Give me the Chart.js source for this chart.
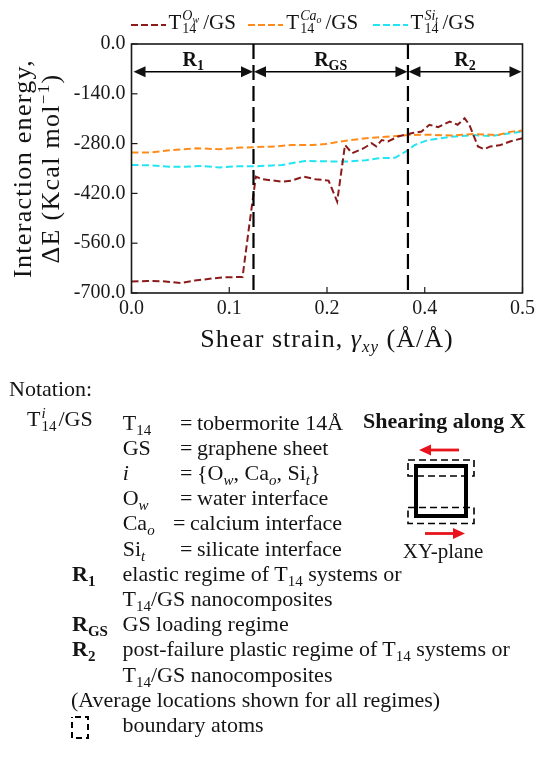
<!DOCTYPE html>
<html>
<head>
<meta charset="utf-8">
<script src="https://cdn.jsdelivr.net/npm/chart.js@4.4.1/dist/chart.umd.min.js"></script>
<style>
  html, body { margin: 0; padding: 0; background: #fff; }
  body { width: 539px; height: 761px; position: relative; overflow: hidden;
         font-family: "Liberation Serif", "Times New Roman", serif; color: #141414; }
  #chart { position: absolute; left: 0; top: 0; }
  .ln { position: absolute; white-space: nowrap; font-size: 22px; line-height: 22px; }
  .b { font-weight: bold; }
  .s { font-size: 15px; position: relative; top: 5px; }
  .it { font-style: italic; }
  .stk { display: inline-block; vertical-align: -5px; margin: 0 2px 0 1px; }
  .stk > span { display: block; line-height: 13px; font-size: 15px; }
  #legend .item { position: absolute; top: 9.8px; white-space: nowrap; font-size: 21px; line-height: 21px; }
  #legend svg { position: absolute; }
  #legend .stk { vertical-align: -4px; margin: 0 4px 0 1px; }
  #legend .stk > span { line-height: 12px; font-size: 14px; }
  .ls { font-size: 10px; position: relative; top: 3px; font-style: italic; }
</style>
</head>
<body>
<canvas id="chart" width="539" height="365"></canvas>
<div id="legend"></div>

<svg id="sketch" width="539" height="761" style="position:absolute;left:0;top:0">
  <!-- shear arrows -->
  <line x1="459" y1="450" x2="429" y2="450" stroke="#e8141b" stroke-width="2.8"/>
  <polygon points="419,450 431,444.5 431,455.5" fill="#e8141b"/>
  <line x1="425" y1="533.5" x2="455" y2="533.5" stroke="#e8141b" stroke-width="2.8"/>
  <polygon points="465,533.5 453,528 453,539" fill="#e8141b"/>
  <!-- cell -->
  <rect x="416" y="466" width="50" height="50" fill="none" stroke="#000" stroke-width="4"/>
  <rect x="408" y="460" width="66" height="16" fill="none" stroke="#000" stroke-width="1.6" stroke-dasharray="7 4"/>
  <rect x="408" y="507.5" width="66" height="16" fill="none" stroke="#000" stroke-width="1.6" stroke-dasharray="7 4"/>
  <!-- boundary atoms symbol -->
  <rect x="72" y="717" width="16" height="21" fill="none" stroke="#000" stroke-width="2" stroke-dasharray="6 4" stroke-dashoffset="-3"/>
</svg>

<div class="ln" style="left:9px;top:377.6px">Notation:</div>
<div class="ln" style="left:27px;top:406.6px">T<span class="stk"><span class="it">i</span><span>14</span></span>/GS</div>

<div class="ln" style="left:122.7px;top:411.6px">T<span class="s">14</span></div>
<div class="ln" style="left:180px;top:411.6px">=</div>
<div class="ln" style="left:197px;top:411.6px">tobermorite 14Å</div>

<div class="ln" style="left:122.7px;top:436.8px">GS</div>
<div class="ln" style="left:180px;top:436.8px">=</div>
<div class="ln" style="left:197px;top:436.8px">graphene sheet</div>

<div class="ln" style="left:122.7px;top:462px"><span class="it">i</span></div>
<div class="ln" style="left:180px;top:462px">=</div>
<div class="ln" style="left:197px;top:462px">{O<span class="s it">w</span>, Ca<span class="s it">o</span>, Si<span class="s it">t</span>}</div>

<div class="ln" style="left:122.7px;top:487.2px">O<span class="s it">w</span></div>
<div class="ln" style="left:180px;top:487.2px">=</div>
<div class="ln" style="left:197px;top:487.2px">water interface</div>

<div class="ln" style="left:122.7px;top:512.4px">Ca<span class="s it">o</span></div>
<div class="ln" style="left:173px;top:512.4px">=</div>
<div class="ln" style="left:190px;top:512.4px">calcium interface</div>

<div class="ln" style="left:122.7px;top:537.6px">Si<span class="s it">t</span></div>
<div class="ln" style="left:180px;top:537.6px">=</div>
<div class="ln" style="left:197px;top:537.6px">silicate interface</div>

<div class="ln b" style="left:363px;top:409.9px">Shearing along X</div>
<div class="ln" style="left:393px;width:100px;text-align:center;top:540.7px;font-size:21px;line-height:21px">XY-plane</div>

<div class="ln b" style="left:72px;top:562.8px">R<span class="s">1</span></div>
<div class="ln" style="left:122.5px;top:562.8px">elastic regime of T<span class="s">14</span> systems or</div>
<div class="ln" style="left:122.5px;top:588px">T<span class="s">14</span>/GS nanocomposites</div>

<div class="ln b" style="left:72px;top:613.2px">R<span class="s">GS</span></div>
<div class="ln" style="left:122.5px;top:613.2px">GS loading regime</div>

<div class="ln b" style="left:72px;top:638.4px">R<span class="s">2</span></div>
<div class="ln" style="left:122.5px;top:638.4px">post-failure plastic regime of T<span class="s">14</span> systems or</div>
<div class="ln" style="left:122.5px;top:663.6px">T<span class="s">14</span>/GS nanocomposites</div>

<div class="ln" style="left:71px;top:688.8px">(Average locations shown for all regimes)</div>
<div class="ln" style="left:122.5px;top:714px">boundary atoms</div>

<script>
// ---- interaction energy (kcal/mol) vs shear strain for the three interfaces ----
const strainOw = [0.000, 0.020, 0.040, 0.064, 0.081, 0.100, 0.119, 0.142, 0.150, 0.159, 0.167, 0.193, 0.205,
                  0.220, 0.235, 0.252, 0.263, 0.273, 0.282, 0.297, 0.307, 0.313, 0.320, 0.328, 0.341, 0.358,
                  0.371, 0.381, 0.392, 0.407, 0.417, 0.426, 0.432, 0.443, 0.451, 0.459, 0.472, 0.484, 0.500];
const energyOw = [-668, -666, -667, -672, -665, -660, -656, -655, -520, -373, -380, -387, -384,
                  -373, -380, -384, -443, -284, -307, -293, -279, -288, -270, -274, -260, -251,
                  -246, -227, -234, -218, -227, -209, -227, -288, -296, -288, -284, -274, -265];

const strainCa = [0.000, 0.023, 0.053, 0.083, 0.112, 0.135, 0.155, 0.184, 0.205, 0.231, 0.248,
                  0.277, 0.303, 0.330, 0.354, 0.380, 0.409, 0.438, 0.468, 0.484, 0.500];
const energyCa = [-305, -305, -298, -293, -296, -292, -290, -288, -284, -284, -281,
                  -271, -264, -260, -256, -255, -257, -253, -256, -247, -243];

const strainSi = [0.000, 0.025, 0.049, 0.068, 0.090, 0.112, 0.135, 0.155, 0.175, 0.193, 0.210, 0.222, 0.252,
                  0.277, 0.300, 0.316, 0.337, 0.354, 0.362, 0.379, 0.408, 0.438, 0.459, 0.484, 0.500];
const energySi = [-340, -341, -345, -345, -343, -347, -344, -344, -342, -340, -333, -329, -330,
                  -330, -327, -321, -320, -298, -284, -270, -261, -256, -259, -251, -246];

const xTickLabels = ['0.0', '0.1', '0.2', '0.4', '0.5'];
const regimeBounds = [0, 0.156, 0.3535, 0.5];      // average regime limits (strain)
const regimeNames = [['R', '1'], ['R', 'GS'], ['R', '2']];
const arrowLevel = -78;                             // energy level of the regime arrows
const legendSup = [['O', 'w'], ['Ca', 'o'], ['Si', 't']];

const colorOw = '#8b1a1a';
const colorCa = '#ff8c1a';
const colorSi = '#22e4f2';

const SERIF = '"Liberation Serif", "Times New Roman", serif';
Chart.defaults.font.family = SERIF;

function points(xs, ys) { return xs.map((v, i) => ({ x: v, y: ys[i] })); }

function drawRich(ctx, parts, x, y, align) {
  let w = 0;
  parts.forEach(p => { ctx.font = p.f; p.w = ctx.measureText(p.t).width; w += p.w; });
  let cx = align === 'center' ? x - w / 2 : x;
  ctx.textAlign = 'left';
  ctx.textBaseline = 'alphabetic';
  parts.forEach(p => { ctx.font = p.f; ctx.fillText(p.t, cx, y + (p.dy || 0)); cx += p.w; });
}

function seg(ctx, x1, y1, x2, y2) { ctx.beginPath(); ctx.moveTo(x1, y1); ctx.lineTo(x2, y2); ctx.stroke(); }

function head(ctx, tipX, y, dir) {
  ctx.beginPath();
  ctx.moveTo(tipX, y);
  ctx.lineTo(tipX - dir * 12, y - 5.5);
  ctx.lineTo(tipX - dir * 12, y + 5.5);
  ctx.closePath();
  ctx.fill();
}

const decorations = {
  id: 'decorations',
  afterDatasetsDraw(chart) {
    const { ctx, chartArea: a, scales: { x, y } } = chart;
    ctx.save();
    ctx.strokeStyle = '#1a1a1a';
    ctx.fillStyle = '#111';

    // frame
    ctx.lineWidth = 1.6;
    ctx.strokeRect(a.left, a.top, a.right - a.left, a.bottom - a.top);

    // inward ticks on left and bottom axes
    ctx.lineWidth = 1.2;
    y.ticks.forEach(t => { const py = y.getPixelForValue(t.value); seg(ctx, a.left, py, a.left + 6, py); });
    x.ticks.forEach(t => { const px = x.getPixelForValue(t.value); seg(ctx, px, a.bottom, px, a.bottom - 6); });

    // regime boundaries
    ctx.lineWidth = 2.2;
    ctx.strokeStyle = '#000';
    ctx.setLineDash([15, 6]);
    regimeBounds.slice(1, -1).forEach(b => {
      const px = x.getPixelForValue(b);
      seg(ctx, px, a.top, px, a.bottom);
    });
    ctx.setLineDash([]);

    // regime arrows and names
    const ay = y.getPixelForValue(arrowLevel);
    ctx.lineWidth = 1.3;
    for (let i = 0; i < regimeNames.length; i++) {
      const x0 = x.getPixelForValue(regimeBounds[i]) + (i === 0 ? 2 : 0.5);
      const x1 = x.getPixelForValue(regimeBounds[i + 1]) - (i === regimeNames.length - 1 ? 1 : 0.5);
      seg(ctx, x0 + 6, ay, x1 - 6, ay);
      head(ctx, x0, ay, -1);
      head(ctx, x1, ay, 1);
      const [main, sub] = regimeNames[i];
      drawRich(ctx, [
        { t: main, f: 'bold 20px ' + SERIF },
        { t: sub, f: 'bold 14px ' + SERIF, dy: 4 }
      ], (x0 + x1) / 2, ay - 6, 'center');
    }

    // axis titles
    ctx.fillStyle = '#141414';
    ctx.letterSpacing = '1px';
    drawRich(ctx, [
      { t: 'Shear strain, ', f: '26px ' + SERIF },
      { t: 'γ', f: 'italic 26px ' + SERIF },
      { t: 'xy', f: 'italic 17px ' + SERIF, dy: 5 },
      { t: ' (Å/Å)', f: '26px ' + SERIF }
    ], (a.left + a.right) / 2, a.bottom + 54, 'center');

    ctx.letterSpacing = '1.3px';
    const cy = (a.top + a.bottom) / 2;
    ctx.translate(31, cy);
    ctx.rotate(-Math.PI / 2);
    drawRich(ctx, [{ t: 'Interaction energy,', f: '26px ' + SERIF }], 0, 0, 'center');
    ctx.rotate(Math.PI / 2);
    ctx.translate(28, 0);
    ctx.rotate(-Math.PI / 2);
    drawRich(ctx, [
      { t: 'ΔE (Kcal mol', f: '26px ' + SERIF },
      { t: '−1', f: '17px ' + SERIF, dy: -10 },
      { t: ')', f: '26px ' + SERIF }
    ], 0, 0, 'center');
    ctx.restore();
  }
};

const dashed = { borderWidth: 2, borderDash: [7, 3.5], pointRadius: 0, fill: false, tension: 0 };

new Chart(document.getElementById('chart'), {
  type: 'line',
  data: {
    datasets: [
      { label: 'Ow', data: points(strainOw, energyOw), borderColor: colorOw, ...dashed },
      { label: 'Cao', data: points(strainCa, energyCa), borderColor: colorCa, ...dashed },
      { label: 'Sit', data: points(strainSi, energySi), borderColor: colorSi, ...dashed }
    ]
  },
  options: {
    responsive: false,
    animation: false,
    devicePixelRatio: 1,
    layout: { padding: { top: 44, right: 14, bottom: 0, left: 0 } },
    plugins: { legend: { display: false }, tooltip: { enabled: false } },
    scales: {
      x: {
        type: 'linear', min: 0, max: 0.5,
        grid: { display: false, drawTicks: false },
        border: { display: false },
        ticks: { stepSize: 0.125, padding: 4, color: '#1a1a1a', font: { size: 20 },
                 callback: (v, i) => xTickLabels[i] },
        afterFit: s => { s.height = 72; }
      },
      y: {
        min: -700, max: 0,
        grid: { display: false, drawTicks: false },
        border: { display: false },
        ticks: { stepSize: 140, padding: 6, color: '#1a1a1a', font: { size: 20 },
                 callback: v => v.toFixed(1) },
        afterFit: s => { s.width = 131.5; }
      }
    }
  },
  plugins: [decorations]
});

// legend row
const legendColors = [colorOw, colorCa, colorSi];
const legendLeft = [129.5, 247.3, 371.6];
const legend = document.getElementById('legend');
legendSup.forEach(([base, sub], i) => {
  const svgNS = 'http://www.w3.org/2000/svg';
  const svg = document.createElementNS(svgNS, 'svg');
  svg.setAttribute('width', '37');
  svg.setAttribute('height', '6');
  svg.style.left = legendLeft[i] + 'px';
  svg.style.top = '21.7px';
  const l = document.createElementNS(svgNS, 'line');
  l.setAttribute('x1', '1'); l.setAttribute('x2', '36');
  l.setAttribute('y1', '3'); l.setAttribute('y2', '3');
  l.setAttribute('stroke', legendColors[i]);
  l.setAttribute('stroke-width', '2');
  l.setAttribute('stroke-dasharray', '7 3');
  svg.appendChild(l);
  legend.appendChild(svg);

  const item = document.createElement('div');
  item.className = 'item';
  item.style.left = (legendLeft[i] + 39) + 'px';
  item.innerHTML = 'T<span class="stk"><span><i>' + base + '</i><span class="ls">' + sub +
                   '</span></span><span>14</span></span>/GS';
  legend.appendChild(item);
});
</script>
</body>
</html>
